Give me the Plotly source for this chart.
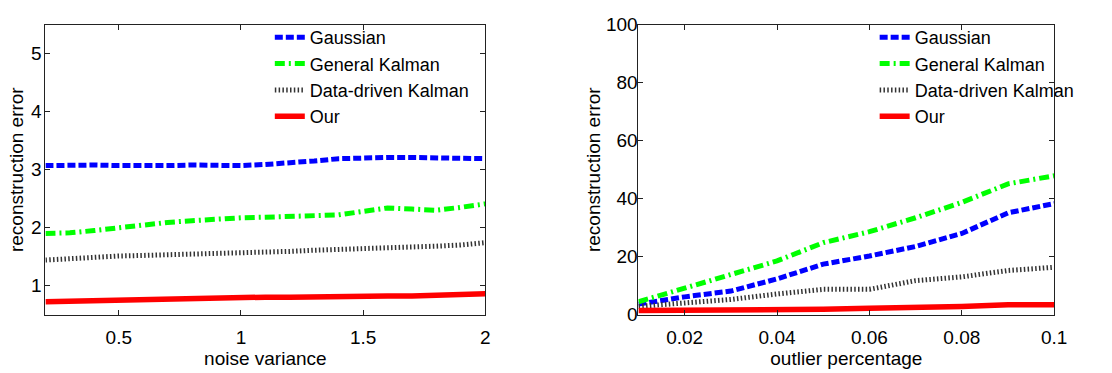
import plotly.graph_objects as go

# ---- data: left panel (noise variance) ----
noise_var = [0.2, 0.3, 0.4, 0.5, 0.6, 0.7, 0.8, 0.9, 1.0, 1.1, 1.2, 1.3, 1.4, 1.5, 1.6, 1.7, 1.8, 1.9, 2.0]
left_gaussian = [3.07, 3.08, 3.08, 3.07, 3.06, 3.07, 3.08, 3.07, 3.07, 3.09, 3.11, 3.15, 3.19, 3.21, 3.21, 3.21, 3.21, 3.21, 3.19]
left_general = [1.90, 1.91, 1.95, 2.00, 2.05, 2.09, 2.12, 2.15, 2.17, 2.18, 2.20, 2.21, 2.22, 2.28, 2.34, 2.32, 2.30, 2.35, 2.41]
left_datadriven = [1.44, 1.47, 1.49, 1.51, 1.52, 1.53, 1.54, 1.55, 1.55, 1.57, 1.59, 1.61, 1.62, 1.64, 1.65, 1.66, 1.68, 1.70, 1.74]
left_our = [0.72, 0.73, 0.75, 0.76, 0.76, 0.77, 0.78, 0.78, 0.79, 0.80, 0.80, 0.81, 0.81, 0.82, 0.82, 0.82, 0.83, 0.84, 0.86]

# ---- data: right panel (outlier percentage) ----
outlier_pct = [0.01, 0.02, 0.03, 0.04, 0.05, 0.06, 0.07, 0.08, 0.09, 0.10]
right_gaussian = [3.6, 6.1, 8.1, 12.3, 17.4, 20.2, 23.5, 28.0, 35.1, 38.3]
right_general = [4.4, 9.0, 13.6, 18.5, 24.8, 28.6, 33.4, 38.7, 45.1, 47.9]
right_datadriven = [2.8, 4.1, 5.2, 7.1, 8.7, 8.7, 11.7, 13.0, 15.2, 16.3]
right_our = [1.4, 1.4, 1.5, 1.5, 1.8, 2.2, 2.3, 2.8, 3.4, 3.4]

names = ["Gaussian", "General Kalman", "Data-driven Kalman", "Our"]
styles = [
    dict(color="#0000ff", width=5, dash="8px,3px"),
    dict(color="#00ff00", width=5, dash="10px,4px,2px,4px"),
    dict(color="#333333", width=5, dash="1.5px,2.3px"),
    dict(color="#ff0000", width=5.5, dash="solid"),
]

FONT = "Liberation Sans, Arial, sans-serif"
fig = go.Figure()

left_series = [left_gaussian, left_general, left_datadriven, left_our]
right_series = [right_gaussian, right_general, right_datadriven, right_our]

for n, ys, st in zip(names, left_series, styles):
    fig.add_trace(go.Scatter(x=noise_var, y=ys, mode="lines", name=n, line=st,
                             xaxis="x", yaxis="y", legend="legend"))
for n, ys, st in zip(names, right_series, styles):
    fig.add_trace(go.Scatter(x=outlier_pct, y=ys, mode="lines", name=n, line=st,
                             xaxis="x2", yaxis="y2", legend="legend2"))

H = 373.0
W = 1112.0
ax_common = dict(showline=True, mirror="ticks", linecolor="#222", linewidth=1,
                 ticks="inside", ticklen=5, tickcolor="#222", showgrid=False,
                 zeroline=False, tickfont=dict(size=19, color="black", family=FONT),
                 title_font=dict(size=19, color="black", family=FONT))

fig.update_layout(
    width=1112, height=373, margin=dict(l=0, r=0, t=0, b=0),
    paper_bgcolor="white", plot_bgcolor="white",
    font=dict(family=FONT, color="black"),
    xaxis=dict(domain=[46 / W, 491 / W], range=[0.2, 2.0], anchor="y",
               tickvals=[0.5, 1, 1.5, 2], ticktext=["0.5", "1", "1.5", "2"],
               ticklabelstandoff=6,
               title=dict(text="noise variance", standoff=4), **ax_common),
    yaxis=dict(domain=[1 - 322.7 / H, 1 - 15.7 / H], range=[0.5, 5.5], anchor="x",
               tickvals=[1, 2, 3, 4, 5], ticklabelstandoff=-1,
               title=dict(text="reconstruction error", standoff=2), **ax_common),
    xaxis2=dict(domain=[646 / W, 1066.7 / W], range=[0.01, 0.1], anchor="y2",
                tickvals=[0.02, 0.04, 0.06, 0.08, 0.1],
                ticktext=["0.02", "0.04", "0.06", "0.08", "0.1"],
                ticklabelstandoff=6,
                title=dict(text="outlier percentage", standoff=4), **ax_common),
    yaxis2=dict(domain=[1 - 322.7 / H, 1 - 15.7 / H], range=[0, 100], anchor="x2",
                tickvals=[0, 20, 40, 60, 80, 100], ticklabelstandoff=-4,
                title=dict(text="reconstruction error", standoff=0), **ax_common),
    legend=dict(x=273 / W, y=1 - 9.5 / H, xanchor="left", yanchor="top",
                bgcolor="rgba(0,0,0,0)", borderwidth=0,
                font=dict(size=18, family=FONT, color="black"),
                itemwidth=30, tracegroupgap=0),
    legend2=dict(x=885 / W, y=1 - 9.5 / H, xanchor="left", yanchor="top",
                 bgcolor="rgba(0,0,0,0)", borderwidth=0,
                 font=dict(size=18, family=FONT, color="black"),
                 itemwidth=30, tracegroupgap=0),
)

fig.write_html("out.html")
